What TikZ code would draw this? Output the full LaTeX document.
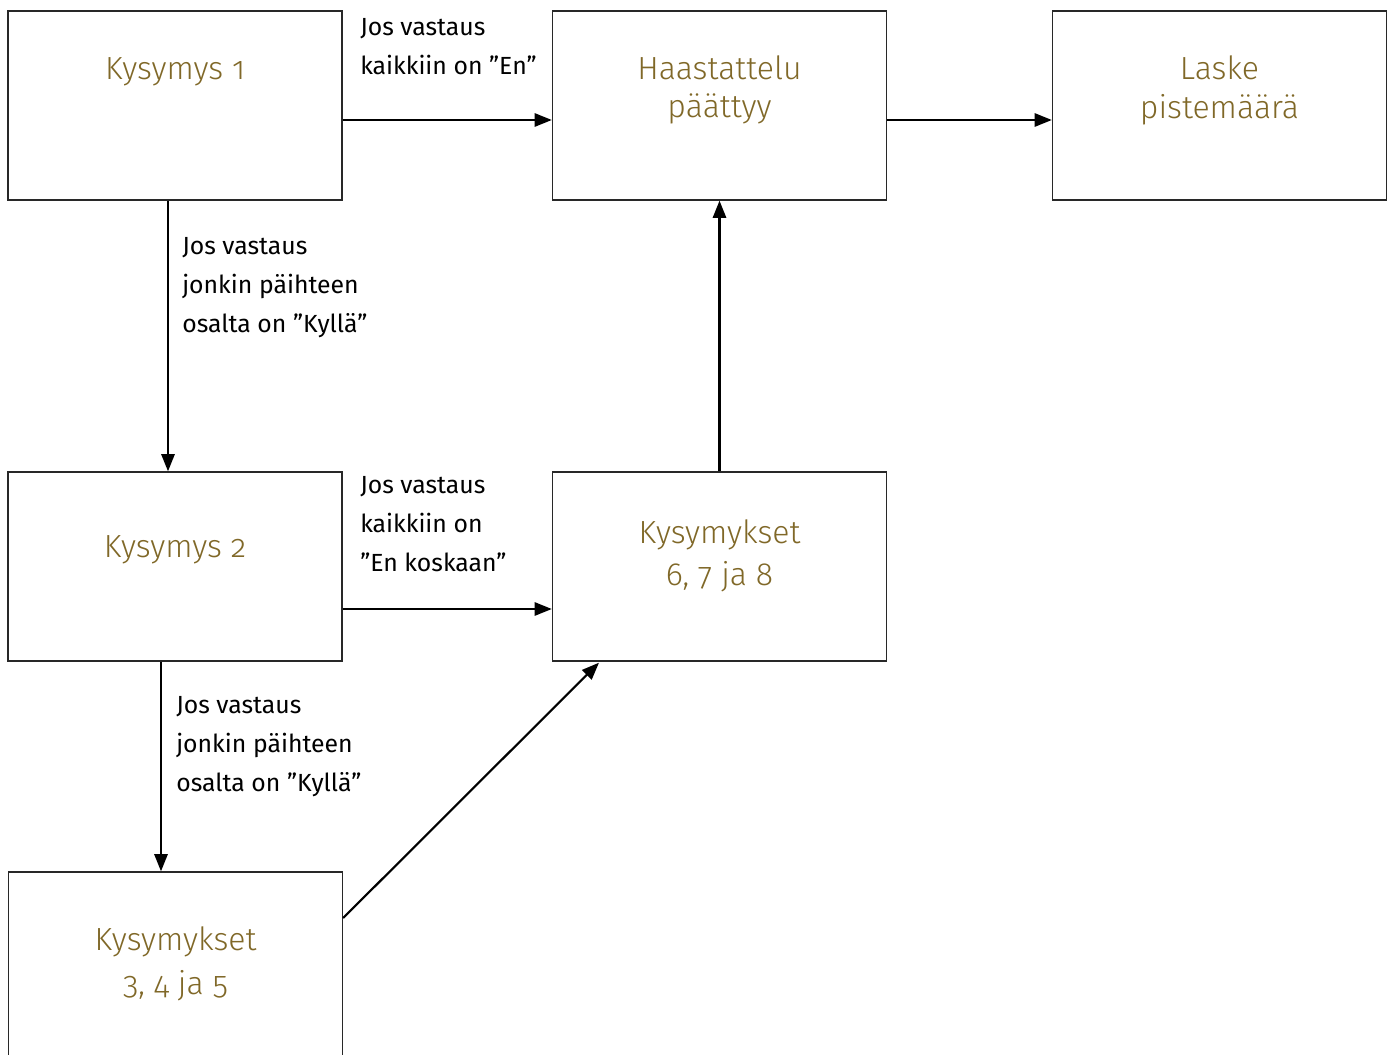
\documentclass[tikz,border=0pt]{standalone}
\usepackage{fontspec}
\setmainfont{Fira Sans}
\newfontfamily\titlefont{Fira Sans Light}[Numbers=OldStyle]
\newfontfamily\labelfont{Fira Sans}
\usetikzlibrary{arrows.meta}
\definecolor{gold}{RGB}{128,104,40}
\definecolor{boxline}{RGB}{40,40,40}
\begin{document}
\begin{tikzpicture}[x=0.75pt,y=-0.75pt,
  box/.style={draw=boxline,line width=1pt,minimum width=250.5pt,minimum height=141.75pt,inner sep=0pt},
  title/.style={anchor=north,align=center,text=gold,inner sep=0pt,font=\titlefont\fontsize{24}{29}\selectfont},
  lbl/.style={anchor=north west,align=left,inner sep=0pt,font=\labelfont\fontsize{18.6}{29.25}\selectfont},
  arr/.style={line width=1.6pt,-{Triangle[length=13pt,width=10pt]}},
  con/.style={line width=1.6pt}]
\useasboundingbox (0,0) rectangle (1391,1055);
\clip (0,0) rectangle (1391,1055);
% boxes
\node[box] (k1) at (175,105.5) {};
\node[box] (h) at (719.5,105.5) {};
\node[box] (l) at (1219.5,105.5) {};
\node[box] (k2) at (175,566.5) {};
\node[box] (k678) at (719.5,566.5) {};
\node[box] (k345) at (175.5,966.5) {};
% titles
\node[title] (t1) at (175,57) {Kysymys 1};
\node[title] (th) at (719.5,55) {Haastattelu\\päättyy};
\node[title] (tl) at (1219.5,55.5) {Laske\\pistemäärä};
\node[title] (t2) at (175,535) {Kysymys 2};
\node[title] (t678) at (719.5,519) {Kysymykset\\[3pt]6, 7 ja 8};
\node[title] (t345) at (175.5,926) {Kysymykset\\[4pt]3, 4 ja 5};
% connectors
\draw[arr] ([yshift=-10.875pt]k1.east) -- ([yshift=-10.875pt]h.west);
\draw[arr] ([yshift=-10.875pt]h.east) -- ([yshift=-10.875pt]l.west);
\draw[arr] ([xshift=-5.25pt]k1.south) -- ([xshift=-5.25pt]k2.north);
\draw[arr] ([yshift=-31.875pt]k2.east) -- ([yshift=-31.875pt]k678.west);
\draw[arr] (k678.north) -- (h.south);
\draw[arr] ([xshift=-10.5pt]k2.south) -- ([xshift=-10.875pt]k345.north);
\draw[arr] ([yshift=36.375pt]k345.east) -- ([xshift=-90.375pt,yshift=-0.75pt]k678.south);
% labels
\node[lbl] (l1) at (360,18) {Jos vastaus\\kaikkiin on ”En”};
\node[lbl] (l2) at (182,237) {Jos vastaus\\jonkin päihteen\\osalta on ”Kyllä”};
\node[lbl] (l3) at (360,476) {Jos vastaus\\kaikkiin on\\”En koskaan”};
\node[lbl] (l4) at (176,696) {Jos vastaus\\jonkin päihteen\\osalta on ”Kyllä”};
\end{tikzpicture}
\end{document}
